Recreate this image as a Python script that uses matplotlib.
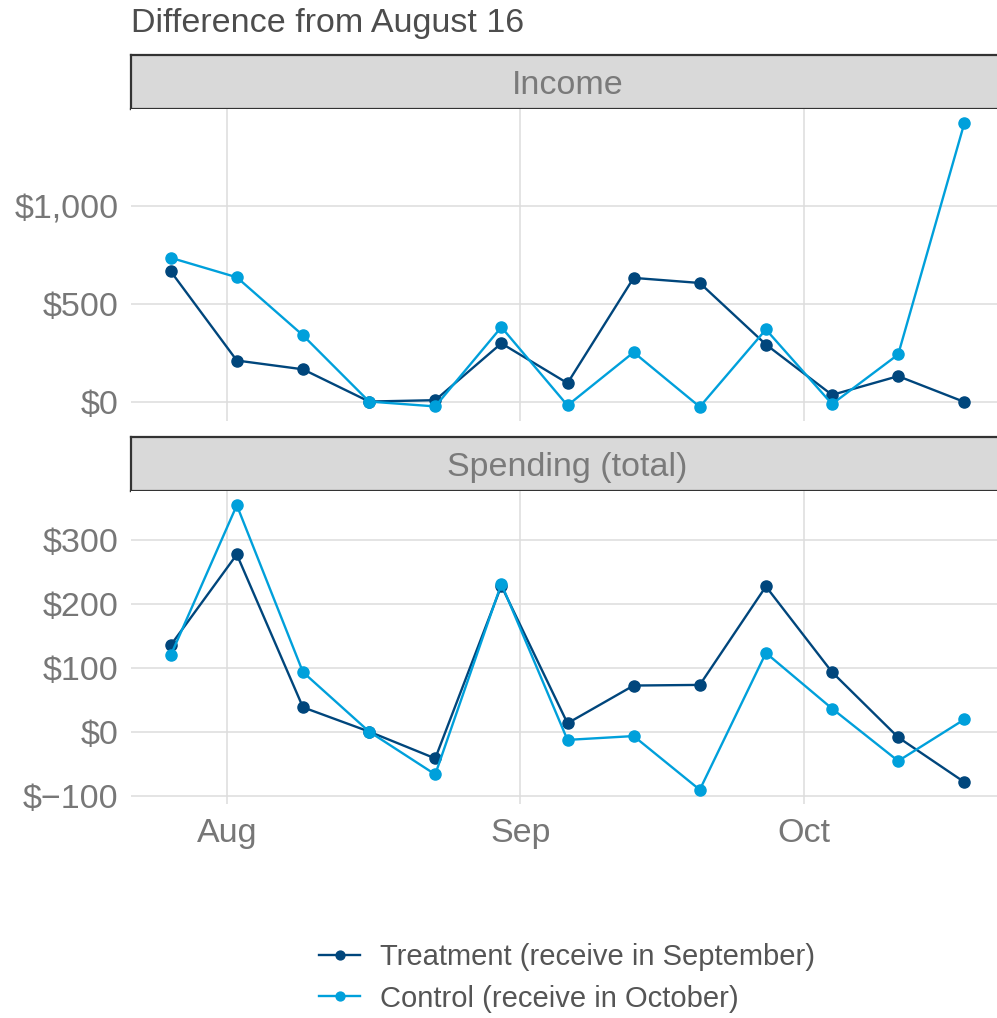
import numpy as np
import pandas as pd
import matplotlib
matplotlib.use("Agg")
import matplotlib.pyplot as plt
import matplotlib.dates as mdates
from matplotlib.ticker import FuncFormatter

plt.rcParams['font.family'] = ['Liberation Sans', 'DejaVu Sans']

# weekly dates (week of)
weeks = pd.to_datetime(['2021-07-26', '2021-08-02', '2021-08-09', '2021-08-16',
                        '2021-08-23', '2021-08-30', '2021-09-06', '2021-09-13',
                        '2021-09-20', '2021-09-27', '2021-10-04', '2021-10-11',
                        '2021-10-18'])

income_treat = [667, 210, 165, 0, 7, 298, 94, 633, 607, 292, 34, 130, -2]
income_ctrl = [736, 636, 339, 0, -25, 381, -20, 252, -27, 369, -13, 241, 1425]
spend_treat = [135, 277, 38, 0, -42, 228, 13, 72, 73, 227, 93, -9, -79]
spend_ctrl = [119, 354, 93, 0, -67, 231, -13, -7, -91, 123, 36, -46, 19]

panels = ['Income', 'Spending (total)']
series_labels = ['Treatment (receive in September)', 'Control (receive in October)']
colors = ['#00467c', '#00a0db']
yticks = [[0, 500, 1000], [-100, 0, 100, 200, 300]]

W, H = 997, 1018
fig = plt.figure(figsize=(W / 100, H / 100), dpi=100)


def rect(x0, y0, x1, y1):
    # pixel box (top-left origin) -> figure fraction
    return [x0 / W, 1 - y1 / H, (x1 - x0) / W, (y1 - y0) / H]


def money(v, pos):
    s = f"{abs(v):,.0f}"
    return f"${s}" if v >= 0 else f"$\u2212{s}"


# the panel runs a little past the right edge of the canvas (cropped)
right = 1004
boxes = [(55, 109, 421), (437, 491, 804)]
data = [(income_treat, income_ctrl), (spend_treat, spend_ctrl)]
axes = []
for i, (name, (s0, s1, s2)) in enumerate(zip(panels, boxes)):
    strip = fig.add_axes(rect(131, s0, right, s1))
    strip.set_facecolor('#d9d9d9')
    strip.set_xticks([])
    strip.set_yticks([])
    for sp in strip.spines.values():
        sp.set_color('#333333')
        sp.set_linewidth(1.6)
    strip.text(0.5, 0.44, name, ha='center', va='center', fontsize=24.5,
               color='#7a7a7a', transform=strip.transAxes)

    ax = fig.add_axes(rect(131, s1, right, s2))
    for vals, col, lab in zip(data[i], colors, series_labels):
        ax.plot(weeks, vals, color=col, lw=1.7, marker='o', ms=8, label=lab)
    ax.margins(x=0.05, y=0.05)
    ax.set_yticks(yticks[i])
    ax.yaxis.set_major_formatter(FuncFormatter(money))
    ax.xaxis.set_major_locator(mdates.MonthLocator())
    ax.xaxis.set_major_formatter(mdates.DateFormatter('%b'))
    ax.grid(True, color='#dddddd', lw=1.1)
    ax.set_axisbelow(True)
    for sp in ax.spines.values():
        sp.set_visible(False)
    ax.tick_params(length=0, labelsize=24.5, colors='#777777')
    ax.tick_params(axis='y', pad=9)
    ax.tick_params(axis='x', pad=10)
    if i == 0:
        ax.tick_params(labelbottom=False)
    axes.append(ax)

fig.text(131 / W, 1 - 32 / H, 'Difference from August 16', fontsize=24.5,
         color='#4d4d4d', va='baseline', ha='left')

handles, labels = axes[0].get_legend_handles_labels()
fig.legend(handles, labels, loc='center left', bbox_to_anchor=(293 / W, 1 - 978 / H),
           frameon=False, fontsize=21, labelcolor='#555555', handlelength=1.4,
           handletextpad=0.7, labelspacing=0.45, markerscale=0.8)

fig.savefig('out.png', dpi=100)
